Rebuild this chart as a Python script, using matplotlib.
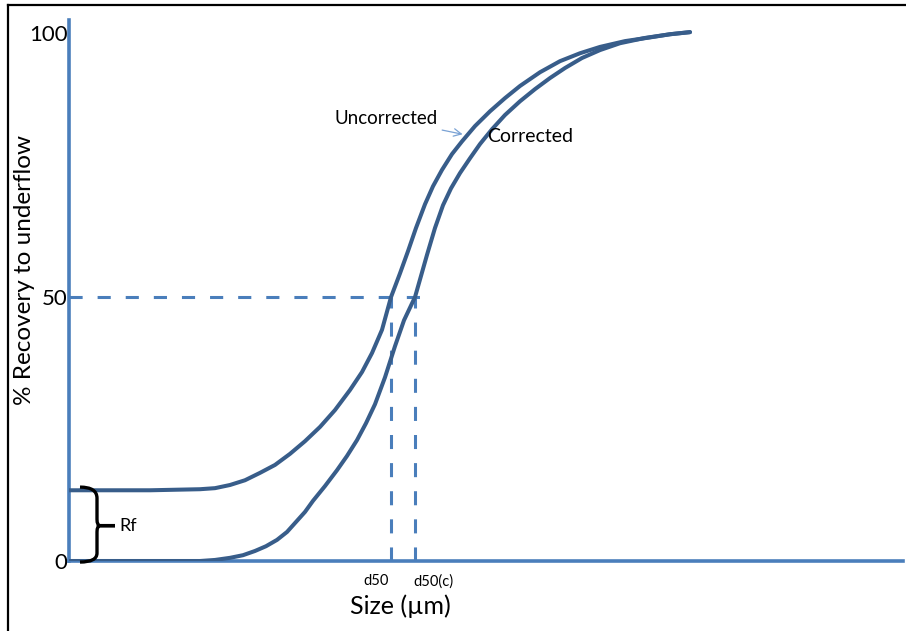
import matplotlib.pyplot as plt
import numpy as np
from matplotlib.path import Path
from matplotlib.patches import PathPatch
from matplotlib.lines import Line2D

plt.rcParams['font.family'] = ['Lato', 'DejaVu Sans']

# partition curves: size in arbitrary units, recovery to underflow in %
size_unc = [0, 81, 131, 146, 161, 176, 191, 206, 221, 236, 251, 266, 281,
            293, 303, 313, 322, 331, 339, 347, 356, 364, 373, 383, 393, 406,
            421, 436, 451, 471, 491, 511, 531, 556, 581, 601, 621]
rec_unc = [13.4, 13.4, 13.6, 13.8, 14.4, 15.3, 16.7, 18.2, 20.3, 22.7, 25.4,
           28.6, 32.4, 35.8, 39.4, 43.8, 50.0, 54.5, 58.7, 63.1, 67.6, 71.0,
           74.1, 77.1, 79.5, 82.4, 85.2, 87.7, 90.0, 92.6, 94.7, 96.2, 97.4,
           98.5, 99.2, 99.8, 100.2]
size_cor = [0, 81, 131, 146, 161, 174, 186, 197, 208, 218, 227, 236, 244,
            256, 268, 278, 288, 297, 306, 316, 326, 335, 346, 352, 358, 366,
            374, 382, 391, 401, 411, 423, 436, 451, 466, 481, 496, 513, 531,
            551, 576, 601, 621]
rec_cor = [0, 0, 0, 0.2, 0.6, 1.1, 1.9, 2.8, 4.0, 5.5, 7.4, 9.3, 11.4,
           14.2, 17.2, 19.9, 22.9, 26.1, 29.7, 34.8, 40.7, 45.6, 50.0, 54.0,
           58.0, 63.1, 67.4, 70.6, 73.5, 76.3, 79.0, 81.8, 84.5, 87.1, 89.4,
           91.5, 93.4, 95.3, 96.8, 98.1, 99.1, 99.8, 100.2]
rf = 13.4
d50 = 322
d50c = 346

axis_blue = '#4a7ebb'
curve_blue = '#385d8a'

fig = plt.figure(figsize=(9.06, 6.31), dpi=100)
ax = fig.add_axes([69 / 906, 70 / 631, 834 / 906, 541 / 631])
ax.set_xlim(0, 834)
ax.set_ylim(0, 102.5)

ax.plot(size_unc, rec_unc, color=curve_blue, lw=2.9, solid_capstyle='round',
        solid_joinstyle='round', zorder=3)
ax.plot(size_cor, rec_cor, color=curve_blue, lw=2.9, solid_capstyle='round',
        solid_joinstyle='round', zorder=3)

# d50 guide lines
ax.plot([0, d50c + 10], [50, 50], color=axis_blue, lw=2.2, dashes=(4.3, 4.9), zorder=2)
ax.plot([d50, d50], [0, 50], color=axis_blue, lw=2.2, dashes=(4.6, 4.6), zorder=2)
ax.plot([d50c, d50c], [0, 50], color=axis_blue, lw=2.2, dashes=(4.6, 4.6), zorder=2)

for side in ['top', 'right']:
    ax.spines[side].set_visible(False)
for side in ['left', 'bottom']:
    ax.spines[side].set_color(axis_blue)
    ax.spines[side].set_linewidth(2.6)
ax.set_xticks([])
ax.set_yticks([0, 50, 100])
ax.set_yticklabels(['0', '50', '100'], fontsize=16)
ax.tick_params(axis='y', length=0, pad=1)

# brace marking Rf
bx0, bx1, bx2 = 11, 28, 46
ym = rf / 2
verts = [(bx0, rf + 0.6), (bx1, rf + 0.6), (bx1, rf - 1.5),
         (bx1, ym + 1.2), (bx1, ym), (bx1 + 3, ym), (bx2, ym),
         (bx1 + 3, ym), (bx1, ym), (bx1, ym - 1.2),
         (bx1, 1.5), (bx1, -0.2), (bx0, -0.2)]
codes = [Path.MOVETO, Path.CURVE3, Path.CURVE3,
         Path.LINETO, Path.CURVE3, Path.CURVE3, Path.LINETO,
         Path.LINETO, Path.CURVE3, Path.CURVE3,
         Path.LINETO, Path.CURVE3, Path.CURVE3]
ax.add_patch(PathPatch(Path(verts, codes), facecolor='none', edgecolor='black',
                       lw=2.4, zorder=4, clip_on=False))
ax.text(bx2 + 4, ym, 'Rf', fontsize=13, va='center', ha='left')

ax.text(d50 - 2, -2.5, 'd50', fontsize=10.5, ha='right', va='top')
ax.text(d50c - 2, -2.5, 'd50(c)', fontsize=10.5, ha='left', va='top')

ax.annotate('Uncorrected', xy=(395, 80.8), xytext=(369, 83.8),
            fontsize=13.5, ha='right', va='center',
            arrowprops=dict(arrowstyle='->', color='#7aa2d4', lw=0.9,
                            shrinkA=1, shrinkB=1))
ax.text(418, 80.5, 'Corrected', fontsize=14, ha='left', va='center')

fig.text(400 / 906, 1 - 606 / 631, 'Size (µm)', fontsize=18, ha='center', va='center')
fig.text(25 / 906, 1 - 270 / 631, '% Recovery to underflow', fontsize=17.5,
         rotation=90, ha='center', va='center')

# outer frame on the left and top edges
fig.add_artist(Line2D([8 / 906, 8 / 906], [0, 1 - 5 / 631], color='black', lw=1.6))
fig.add_artist(Line2D([8 / 906, 1], [1 - 5 / 631, 1 - 5 / 631], color='black', lw=1.6))

fig.savefig('out.png', dpi=100)
